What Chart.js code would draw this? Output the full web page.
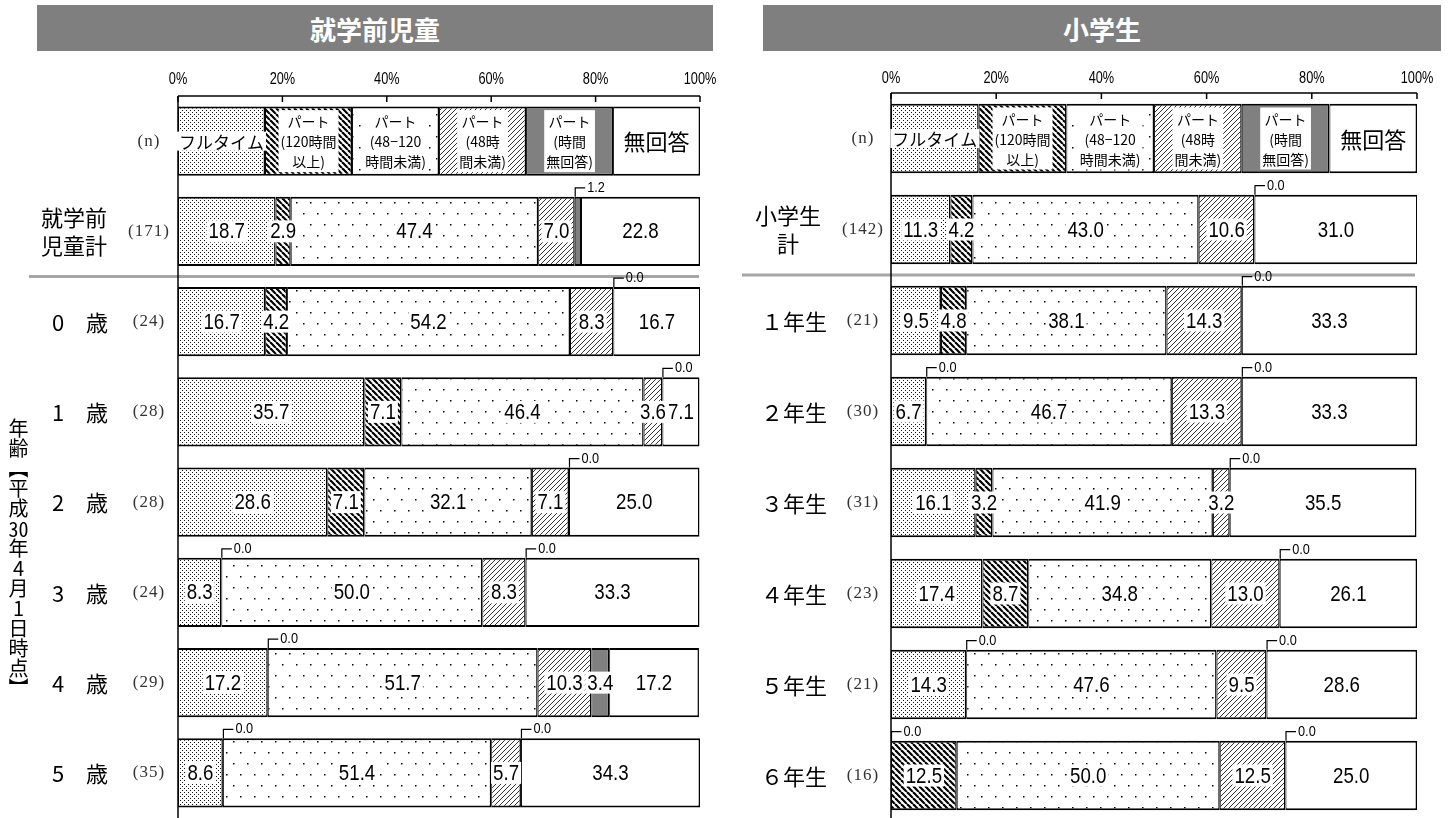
<!DOCTYPE html>
<html><head><meta charset="utf-8">
<script src="https://cdn.jsdelivr.net/npm/chart.js@4/dist/chart.umd.min.js"></script>
<style>
body{margin:0;width:1454px;height:818px;overflow:hidden;background:#fff;position:relative;font-family:"Noto Sans CJK JP",sans-serif;}
.hdr{position:absolute;top:5px;height:46px;background:#7f7f7f;color:#fff;font-weight:bold;font-size:26px;display:flex;align-items:center;justify-content:center;}
canvas{position:absolute;top:0;}
#vlabel{position:absolute;left:8px;top:418px;writing-mode:vertical-rl;text-orientation:upright;font-size:20px;line-height:20px;color:#000;}
#vlabel .tcy{text-combine-upright:all;}
</style></head>
<body>
<div class="hdr" style="left:37px;width:676px;">就学前児童</div>
<div class="hdr" style="left:763px;width:678px;">小学生</div>
<canvas id="c1" width="727" height="830" style="left:0;"></canvas>
<canvas id="c2" width="727" height="830" style="left:727px;"></canvas>
<div id="vlabel">年齢【平成<span class="tcy">30</span>年4月1日時点】</div>
<script>
// ---------- data ----------
const seriesNames = ['フルタイム','パート（120時間以上）','パート（48-120時間未満）','パート（48時間未満）','パート（時間無回答）','無回答'];
const legendLabels = [['フルタイム'],['パート','(120時間','以上)'],['パート','(48−120','時間未満)'],['パート','(48時','間未満)'],['パート','(時間','無回答)'],['無回答']];
const legendShares = [16.67,16.67,16.67,16.67,16.67,16.65];
const tickValues = [0,20,40,60,80,100];
const tickLabels = ['0%','20%','40%','60%','80%','100%'];

const preCategories = ['就学前\n児童計','0　歳','1　歳','2　歳','3　歳','4　歳','5　歳'];
const preN = [171,24,28,28,24,29,35];
const preFull        = [18.7,16.7,35.7,28.6, 8.3,17.2, 8.6];
const prePart120     = [ 2.9, 4.2, 7.1, 7.1, 0.0, 0.0, 0.0];
const prePart48to120 = [47.4,54.2,46.4,32.1,50.0,51.7,51.4];
const prePartUnder48 = [ 7.0, 8.3, 3.6, 7.1, 8.3,10.3, 5.7];
const prePartNoHours = [ 1.2, 0.0, 0.0, 0.0, 0.0, 3.4, 0.0];
const preNoAnswer    = [22.8,16.7, 7.1,25.0,33.3,17.2,34.3];

const eleCategories = ['小学生\n計','１年生','２年生','３年生','４年生','５年生','６年生'];
const eleN = [142,21,30,31,23,21,16];
const eleFull        = [11.3, 9.5, 6.7,16.1,17.4,14.3, 0.0];
const elePart120     = [ 4.2, 4.8, 0.0, 3.2, 8.7, 0.0,12.5];
const elePart48to120 = [43.0,38.1,46.7,41.9,34.8,47.6,50.0];
const elePartUnder48 = [10.6,14.3,13.3, 3.2,13.0, 9.5,12.5];
const elePartNoHours = [ 0.0, 0.0, 0.0, 0.0, 0.0, 0.0, 0.0];
const eleNoAnswer    = [31.0,33.3,33.3,35.5,26.1,28.6,25.0];

// ---------- patterns ----------
function makePattern(w,h,draw){
  const c=document.createElement('canvas');c.width=w;c.height=h;
  const g=c.getContext('2d');g.fillStyle='#fff';g.fillRect(0,0,w,h);draw(g);
  return g.createPattern(c,'repeat');
}
const patFull = makePattern(4,4,g=>{g.fillStyle='#111';g.fillRect(0,0,1,1);g.fillRect(2,2,1,1);});
const pat120 = makePattern(6,6,g=>{g.strokeStyle='#000';g.lineWidth=2.2;for(const o of [-6,0,6]){g.beginPath();g.moveTo(o,0);g.lineTo(o+6,6);g.stroke();}});
const pat48 = makePattern(14,22,g=>{g.fillStyle='#000';g.fillRect(2,4,1.5,1.5);g.fillRect(9,15,1.5,1.5);});
const patU48 = makePattern(5,5,g=>{g.strokeStyle='#333';g.lineWidth=1;for(const o of [-5,0,5]){g.beginPath();g.moveTo(o,5);g.lineTo(o+5,0);g.stroke();}});
const fills = [patFull,pat120,pat48,patU48,'#808080','#ffffff'];

// ---------- helpers ----------
function condText(ctx,s,x,y,sx,align){ctx.save();ctx.translate(x,y);ctx.scale(sx,1);ctx.textAlign=align;ctx.fillText(s,0,0);ctx.restore();}
function seg(ctx,x1,y1,x2,y2){ctx.beginPath();ctx.moveTo(x1,y1);ctx.lineTo(x2,y2);ctx.stroke();}

const panelPlugin = {
  id:'panel',
  afterDatasetsDraw(chart,args,o){
    const ctx=chart.ctx, xs=chart.scales.x, ys=chart.scales.y, ca=chart.chartArea;
    ctx.save();
    // separator
    const ySep=(ys.getPixelForValue(1)+ys.getPixelForValue(2))/2;
    ctx.strokeStyle='#a6a6a6';ctx.lineWidth=3;seg(ctx,o.sepLeft,ySep,o.sepRight,ySep);
    // axes
    ctx.strokeStyle='#000';ctx.lineWidth=1.5;
    seg(ctx,ca.left,ca.top,ca.right,ca.top);
    seg(ctx,ca.left,ca.top,ca.left,chart.height);
    ctx.fillStyle='#000';ctx.textBaseline='middle';ctx.font='17px "Liberation Sans"';
    tickValues.forEach((v,i)=>{
      const x=xs.getPixelForValue(v);
      seg(ctx,x,ca.top,x,ca.top+6);
      condText(ctx,tickLabels[i],x,ca.top-o.tickGap,0.75,'center');
    });
    // row labels
    const names=chart.data.labels;
    names.forEach((nm,i)=>{
      const y=ys.getPixelForValue(i);
      ctx.fillStyle='#333';ctx.font='17px "Liberation Serif"';ctx.textAlign='center';
      ctx.letterSpacing='1px';
      ctx.fillText(o.nLabels[i],o.nCenter,y);
      ctx.letterSpacing='0px';
      if(!nm) return;
      ctx.fillStyle='#000';ctx.font='22px "Noto Sans CJK JP"';ctx.textAlign='center';
      const lines=nm.split('\n');
      if(lines.length===2){ctx.fillText(lines[0],o.nameX2,y-14);ctx.fillText(lines[1],o.nameX2,y+14);}
      else ctx.fillText(lines[0],o.nameX1,y+1);
    });
    // segments
    chart.data.datasets.forEach((ds,k)=>{
      const meta=chart.getDatasetMeta(k);
      meta.data.forEach((el,i)=>{
        const p=el.getProps(['x','base','y','height'],true);
        const cx=(p.x+p.base)/2, top=p.y-p.height/2;
        if(i===0){
          // legend row
          const lines=legendLabels[k];
          let fs, lh;
          if(lines.length===1){fs=(k===5)?22:17;lh=fs;}else{fs=14;lh=20;}
          ctx.font=fs+'px "Noto Sans CJK JP"';
          const w=Math.max(...lines.map(s=>ctx.measureText(s).width));
          const h=lines.length*lh;
          if(k!==5){ctx.fillStyle='#fff';ctx.fillRect(cx-w/2-2,p.y-h/2-1,w+4,h+2);}
          ctx.fillStyle='#000';ctx.textAlign='center';
          lines.forEach((s,j)=>ctx.fillText(s,cx,p.y-h/2+lh*(j+0.5)+1));
          return;
        }
        const v=ds.data[i];
        const txt=v.toFixed(1);
        if(v<1.5){
          ctx.strokeStyle='#000';ctx.lineWidth=1.2;
          const x0=p.base+0.5;
          ctx.beginPath();ctx.moveTo(x0,top);ctx.lineTo(x0,top-9);ctx.lineTo(x0+10,top-9);ctx.stroke();
          ctx.fillStyle='#000';ctx.font='15px "Liberation Sans"';
          condText(ctx,txt,x0+12,top-9,0.85,'left');
        } else {
          ctx.font='22px "Liberation Sans"';
          const w=ctx.measureText(txt).width*0.85;
          if(k!==5){ctx.fillStyle='#fff';ctx.fillRect(cx-w/2-2,p.y-11,w+4,22);}
          ctx.fillStyle='#000';
          condText(ctx,txt,cx,p.y+1,0.85,'center');
        }
      });
    });
    ctx.restore();
  }
};

function buildChart(id,cats,ns,series,pad,o){
  const datasets=series.map((arr,k)=>({
    label:seriesNames[k],
    data:[legendShares[k],...arr],
    backgroundColor:fills[k],
    borderColor:'#000',
    borderWidth:{top:2,bottom:2,left:1,right:1.5},
    borderSkipped:false,
    inflateAmount:0,
    categoryPercentage:1,
    barPercentage:0.765
  }));
  o.nLabels=['(n)',...ns.map(n=>'('+n+')')];
  return new Chart(document.getElementById(id),{
    type:'bar',
    data:{labels:['',...cats],datasets},
    options:{
      indexAxis:'y',responsive:false,animation:false,
      layout:{padding:pad},
      scales:{x:{stacked:true,min:0,max:100,display:false},y:{stacked:true,display:false}},
      plugins:{legend:{display:false},tooltip:{enabled:false},panel:o}
    },
    plugins:[panelPlugin]
  });
}

buildChart('c1',preCategories,preN,[preFull,prePart120,prePart48to120,prePartUnder48,prePartNoHours,preNoAnswer],
  {left:178,right:27,top:96,bottom:12},
  {sepLeft:29,sepRight:699,tickGap:17,nCenter:149,nameX1:80,nameX2:74});
buildChart('c2',eleCategories,eleN,[eleFull,elePart120,elePart48to120,elePartUnder48,elePartNoHours,eleNoAnswer],
  {left:164,right:37,top:93,bottom:9},
  {sepLeft:15,sepRight:688,tickGap:15,nCenter:136,nameX1:67,nameX2:61});
</script>
</body></html>
